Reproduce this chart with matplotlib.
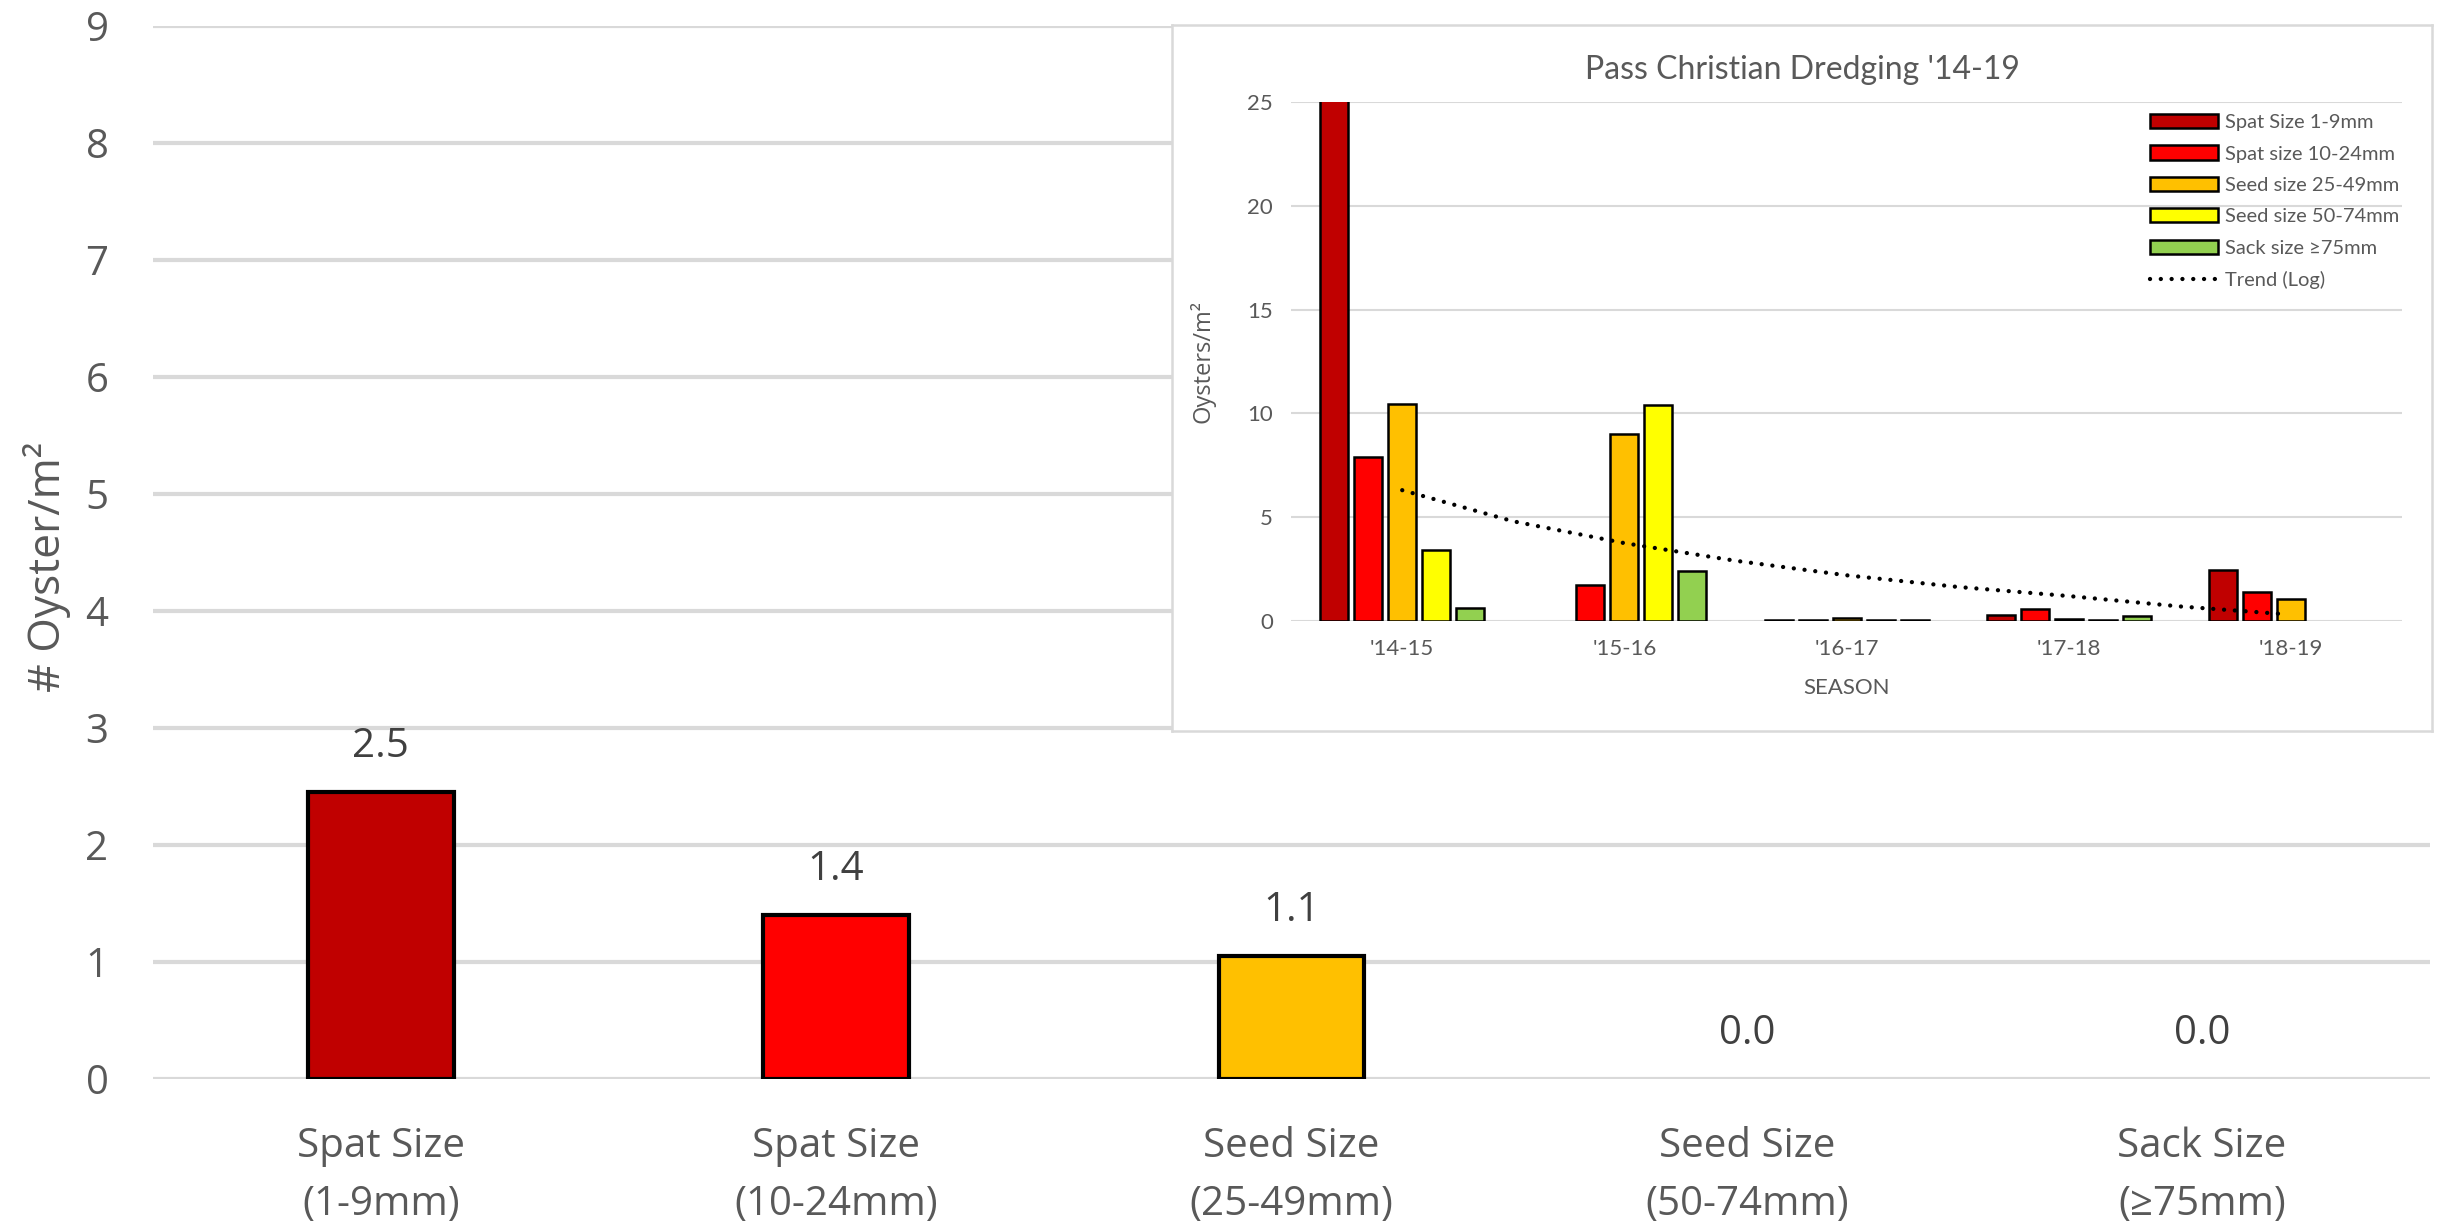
import numpy as np
import matplotlib
matplotlib.use("Agg")
import matplotlib.pyplot as plt
from matplotlib.lines import Line2D

plt.rcParams["font.family"] = ["Open Sans", "DejaVu Sans"]

# main chart: '18-19 season by size class
main_cats = ["Spat Size\n(1-9mm)", "Spat Size\n(10-24mm)", "Seed Size\n(25-49mm)",
             "Seed Size\n(50-74mm)", "Sack Size\n(≥75mm)"]
main_vals = [2.45, 1.4, 1.05, 0.0, 0.0]
main_ticks = list(range(10))

# inset: Pass Christian dredging by season
seasons = ["'14-15", "'15-16", "'16-17", "'17-18", "'18-19"]
size_names = ["Spat Size 1-9mm", "Spat size 10-24mm", "Seed size 25-49mm",
              "Seed size 50-74mm", "Sack size ≥75mm"]
spat_1_9 = [28.0, 0.0, 0.05, 0.29, 2.45]
spat_10_24 = [7.9, 1.73, 0.05, 0.58, 1.4]
seed_25_49 = [10.45, 9.0, 0.15, 0.1, 1.05]
seed_50_74 = [3.4, 10.4, 0.05, 0.05, 0.0]
sack_75 = [0.63, 2.4, 0.05, 0.24, 0.0]
trend_x = [0, 0.5, 1, 1.5, 2, 2.5, 3, 3.5, 3.97]
trend_y = [6.3, 4.8, 3.75, 2.9, 2.2, 1.64, 1.2, 0.7, 0.33]
inset_ticks = [0, 5, 10, 15, 20, 25]

colors = ["#C00000", "#FF0000", "#FFC000", "#FFFF00", "#92D050"]
grey_text = "#595959"
grid_col = "#D9D9D9"
lato = ["Lato", "DejaVu Sans"]

fig = plt.figure(figsize=(24.37, 12.26), dpi=100)

# ---- main axes
ax = fig.add_axes([0.0628, 0.1199, 0.9342, 0.8589], zorder=1)
x = np.arange(len(main_cats))
bars = ax.bar(x, main_vals, width=0.32, color=colors, edgecolor="black",
              linewidth=3, zorder=3)
for p in bars:
    if p.get_height() == 0:
        p.set_linewidth(0)
for i, v in enumerate(main_vals):
    ax.annotate(f"{v:.1f}", (i, v), xytext=(0, 32.5), textcoords="offset points",
                ha="center", va="center", fontsize=29, color="#404040")
ax.set_xlim(-0.5, 4.5)
ax.set_ylim(0, 9)
ax.set_yticks(main_ticks)
ax.set_xticks(x, main_cats)
for lbl in ax.get_xticklabels():
    lbl.set_linespacing(1.58)
ax.yaxis.grid(True, color=grid_col, linewidth=3)
ax.set_axisbelow(True)
for s in ax.spines.values():
    s.set_visible(False)
ax.tick_params(axis="both", length=0, labelsize=29, labelcolor=grey_text)
ax.tick_params(axis="y", pad=32)
ax.tick_params(axis="x", pad=34)
fig.text(47 / 2437, 0.5375, "# Oyster/m²", rotation=90, ha="center", va="center",
         fontsize=32, color=grey_text)

# ---- inset background box
bg = fig.add_axes([0.4809, 0.4038, 0.5170, 0.5759], zorder=2)
bg.set_xticks([])
bg.set_yticks([])
bg.set_facecolor("white")
for s in bg.spines.values():
    s.set_color(grid_col)
    s.set_linewidth(1.8)

# ---- inset chart
ins = fig.add_axes([0.5298, 0.4935, 0.4559, 0.4233], zorder=3)
ins.set_facecolor("none")
series = [spat_1_9, spat_10_24, seed_25_49, seed_50_74, sack_75]
xs = np.arange(len(seasons))
handles = []
for k, vals in enumerate(series):
    b = ins.bar(xs + (k - 2) * 0.153, vals, width=0.126, color=colors[k],
                edgecolor="black", linewidth=1.8, zorder=3, label=size_names[k])
    for p in b:
        if p.get_height() == 0:
            p.set_linewidth(0)
    handles.append(b)
dotted = (0, (0.01, 2.5))
ins.plot(trend_x, trend_y, color="black", linewidth=3.1, linestyle=dotted,
         dash_capstyle="round", zorder=4)
handles.append(Line2D([], [], color="black", linewidth=3.1, linestyle=dotted,
                      dash_capstyle="round", label="Trend (Log)"))

ins.set_xlim(-0.5, 4.5)
ins.set_ylim(0, 25)
ins.set_yticks(inset_ticks)
ins.set_xticks(xs, seasons)
ins.yaxis.grid(True, color=grid_col, linewidth=1.5)
ins.set_axisbelow(True)
for s in ins.spines.values():
    s.set_visible(False)
ins.tick_params(axis="both", length=0, labelsize=16, labelcolor=grey_text, pad=13)
for lbl in ins.get_xticklabels() + ins.get_yticklabels():
    lbl.set_family(lato)
ins.set_xlabel("SEASON", fontsize=16, color=grey_text, family=lato)
ins.xaxis.set_label_coords(0.5, -0.11)
ins.set_ylabel("Oysters/m²", fontsize=17, color=grey_text)
ins.yaxis.set_label_coords(-0.068, 0.5)
fig.text(1802 / 2437, 1 - 70 / 1226, "Pass Christian Dredging '14-19", ha="center",
         va="center", fontsize=23, color=grey_text, family=lato)

leg = ins.legend(handles=handles, loc="upper left", bbox_to_anchor=(0.8822, 0.907),
                 bbox_transform=fig.transFigure, frameon=False, handlelength=3.4,
                 handleheight=0.7, labelspacing=0.71, handletextpad=0.35,
                 borderpad=0, borderaxespad=0, prop={"family": lato, "size": 14.5})
for t in leg.get_texts():
    t.set_color(grey_text)

fig.savefig("out.png", dpi=100, facecolor="white")
